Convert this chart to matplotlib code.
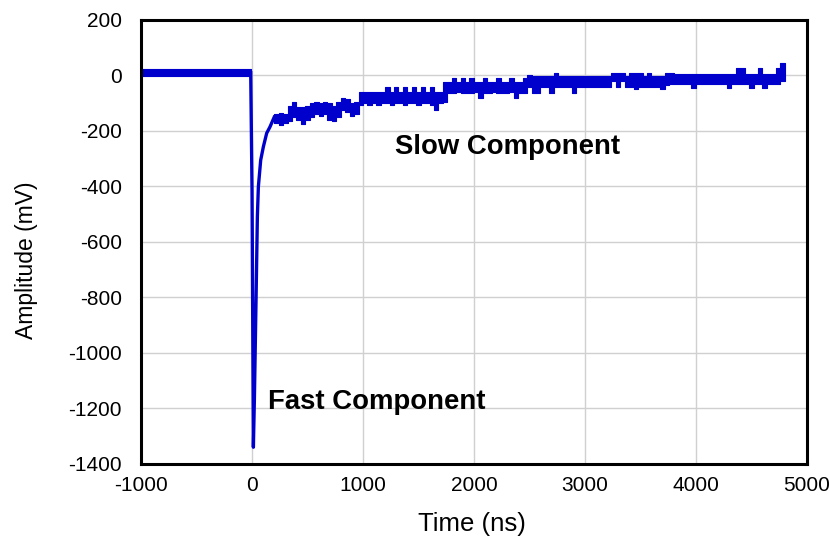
import numpy as np
import matplotlib
matplotlib.use("Agg")
import matplotlib.pyplot as plt

plt.rcParams['font.family'] = ['Liberation Sans', 'DejaVu Sans']
plt.rcParams['axes.unicode_minus'] = False

# ---------------- data ----------------
# pre-trigger baseline: upper / lower edge of the noise band (mV)
t_pre = [-1000, -12]
pre_hi = [24, 24]
pre_lo = [-2, -2]

# fast component (time in ns, amplitude in mV)
t_fast = [-12, 0, 12, 21, 36, 48, 57, 78, 102, 132, 162, 200]
v_fast = [10, -420, -1340, -1170, -810, -509, -401, -305, -257, -208, -185, -150]

# slow component: upper / lower edge of the noisy trace in 40 ns bins from 200 ns
slow_start, slow_bin = 200, 40
slow_hi = [
    -140, -136, -140, -110, -95, -115, -115, -110, -100, -95,
    -100, -95, -100, -110, -95, -80, -85, -100, -95, -60,
    -60, -58, -60, -58, -60, -40, -60, -40, -58, -40,
    -60, -40, -58, -40, -60, -40, -60, -58, -25, -22,
    -10, -22, -10, -22, -10, -22, -22, -10, -22, -22,
    -10, -22, -22, -10, -22, -22, -10, 2, -1, -1,
    -1, -1, -1, 8, -1, -1, -1, -1, -1, -1,
    -1, -1, -1, -1, -1, -1, 8, 8, 8, -1,
    8, 8, 8, -1, 8, -1, -1, -1, 8, 8,
    5, 5, 5, 5, 5, 5, 5, 5, 5, 5,
    5, 5, 5, 5, 26, 26, 5, 5, 5, 26,
    5, 5, 5, 26, 44,
]
slow_lo = [
    -170, -180, -170, -165, -150, -160, -175, -160, -150, -140,
    -145, -140, -160, -165, -150, -125, -130, -145, -140, -105,
    -100, -105, -100, -105, -100, -100, -105, -100, -100, -105,
    -100, -100, -105, -100, -100, -105, -125, -100, -95, -65,
    -65, -60, -65, -62, -65, -60, -80, -62, -65, -60,
    -65, -62, -65, -60, -82, -62, -65, -40, -62, -62,
    -40, -40, -62, -40, -40, -40, -40, -62, -40, -40,
    -40, -40, -40, -40, -40, -40, -20, -42, -20, -42,
    -42, -50, -42, -42, -42, -40, -40, -50, -35, -30,
    -30, -30, -30, -30, -46, -30, -30, -30, -30, -30,
    -30, -30, -46, -30, -30, -30, -30, -46, -30, -30,
    -46, -30, -30, -30, -20,
]

x_ticks = [-1000, 0, 1000, 2000, 3000, 4000, 5000]
y_ticks = [200, 0, -200, -400, -600, -800, -1000, -1200, -1400]

# ---------------- figure ----------------
fig = plt.figure(figsize=(8.3, 5.4), dpi=100)
ax = fig.add_axes([0.170, 0.141, 0.802, 0.822])

color = '#0000CC'

# baseline band
ax.fill_between(t_pre, pre_lo, pre_hi, step='post', color=color, lw=0.8)

# fast component
ax.plot(t_fast, v_fast, color=color, lw=2.4, solid_joinstyle='round')

# slow component as a noise band (step edges)
edges = slow_start + slow_bin * np.arange(len(slow_hi) + 1)
hi = np.append(slow_hi, slow_hi[-1])
lo = np.append(slow_lo, slow_lo[-1])
ax.fill_between(edges, lo, hi, step='post', color=color, lw=0.8)

ax.set_xlim(-1000, 5000)
ax.set_ylim(-1400, 200)
ax.set_xticks(x_ticks)
ax.set_yticks(y_ticks)
ax.grid(True, color='#d0d0d0', lw=1.0)
ax.set_axisbelow(True)
ax.tick_params(length=0, labelsize=15)
ax.tick_params(axis='x', pad=9)
ax.tick_params(axis='y', pad=14)
for s in ax.spines.values():
    s.set_linewidth(2.2)
    s.set_color('black')
    s.set_zorder(5)

ax.set_xlabel('Time (ns)', fontsize=18.5, va='top')
ax.xaxis.set_label_coords(0.497, -0.108)
ax.set_ylabel('Amplitude (mV)', fontsize=16.5)
ax.yaxis.set_label_coords(-0.155, 0.459)

ax.text(1290, -258, 'Slow Component', fontsize=19.8, fontweight='bold', va='center', ha='left')
ax.text(144, -1177, 'Fast Component', fontsize=19.8, fontweight='bold', va='center', ha='left')

fig.savefig('out.png', dpi=100)
